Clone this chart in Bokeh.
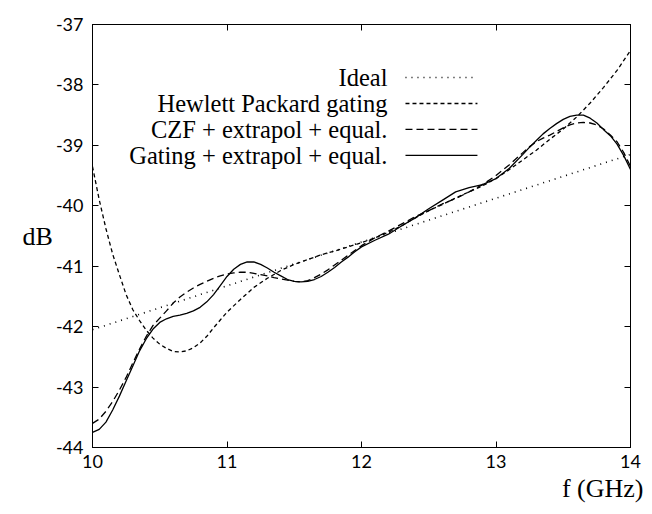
from bokeh.plotting import figure
from bokeh.models import Label, LinearAxis, FixedTicker, Range1d, Title
from bokeh.embed import file_html
from bokeh.resources import INLINE

# ---- data ----
fine_f = [10.0, 10.05, 10.1, 10.15, 10.2, 10.25, 10.3, 10.35, 10.4, 10.45,
          10.5, 10.55, 10.6, 10.65, 10.7, 10.75, 10.8, 10.85, 10.9, 10.95,
          11.0, 11.05, 11.1, 11.15, 11.2, 11.25, 11.3, 11.35, 11.4, 11.45,
          11.5, 11.55, 11.6, 11.65, 11.7, 11.75, 11.8, 11.85, 11.9, 11.95,
          12.0, 12.1, 12.2, 12.3, 12.4, 12.5, 12.6, 12.7, 12.8, 12.9,
          13.0, 13.1, 13.2, 13.25, 13.3, 13.35, 13.4, 13.45, 13.5, 13.55,
          13.6, 13.65, 13.7, 13.75, 13.8, 13.85, 13.9, 13.95, 14.0]

gating_db = [-43.75, -43.7, -43.58, -43.38, -43.15, -42.9, -42.65, -42.4, -42.2, -42.04,
             -41.93, -41.87, -41.83, -41.81, -41.78, -41.74, -41.68, -41.59, -41.47, -41.32,
             -41.17, -41.05, -40.97, -40.93, -40.93, -40.97, -41.03, -41.1, -41.16, -41.22,
             -41.25, -41.26, -41.25, -41.22, -41.17, -41.1, -41.02, -40.93, -40.85, -40.76,
             -40.68, -40.57, -40.47, -40.33, -40.2, -40.05, -39.91, -39.77, -39.7, -39.65,
             -39.55, -39.38, -39.15, -39.03, -38.92, -38.81, -38.72, -38.64, -38.57, -38.52,
             -38.5, -38.5, -38.55, -38.63, -38.74, -38.84, -38.98, -39.17, -39.4]

czf_db = [-43.6, -43.53, -43.4, -43.24, -43.05, -42.84, -42.6, -42.37, -42.16, -41.98,
          -41.86, -41.74, -41.61, -41.51, -41.43, -41.36, -41.3, -41.25, -41.2, -41.16,
          -41.13, -41.11, -41.1, -41.1, -41.12, -41.14, -41.16, -41.19, -41.21, -41.23,
          -41.25, -41.26, -41.24, -41.19, -41.13, -41.06, -40.98, -40.9, -40.82, -40.74,
          -40.66, -40.53, -40.42, -40.3, -40.18, -40.08, -39.97, -39.88, -39.77, -39.65,
          -39.5, -39.32, -39.12, -39.02, -38.94, -38.88, -38.83, -38.77, -38.71, -38.66,
          -38.63, -38.62, -38.63, -38.66, -38.73, -38.83, -38.94, -39.12, -39.35]

hp_f = [10.0, 10.05, 10.1, 10.15, 10.2, 10.25, 10.3, 10.35, 10.4, 10.45,
        10.5, 10.55, 10.6, 10.65, 10.7, 10.75, 10.8, 10.85, 10.9, 10.95,
        11.0, 11.1, 11.2, 11.3, 11.4, 11.5, 11.6, 11.7, 11.8, 11.9,
        12.0, 12.1, 12.2, 12.3, 12.4, 12.5, 12.6, 12.7, 12.8, 12.9,
        13.0, 13.1, 13.2, 13.3, 13.4, 13.5, 13.6, 13.7, 13.8, 13.9, 14.0]
hp_db = [-39.35, -39.9, -40.38, -40.8, -41.14, -41.47, -41.72, -41.9, -42.06, -42.19,
         -42.29, -42.36, -42.41, -42.42, -42.4, -42.35, -42.27, -42.16, -42.02, -41.89,
         -41.76, -41.55, -41.35, -41.2, -41.07, -40.97, -40.89, -40.81, -40.75, -40.68,
         -40.61, -40.53, -40.44, -40.33, -40.2, -40.08, -39.98, -39.87, -39.77, -39.67,
         -39.55, -39.4, -39.24, -39.08, -38.9, -38.73, -38.53, -38.3, -38.04, -37.76, -37.43]

ideal_f = [10.0, 14.0]
ideal_db = [-42.05, -39.15]

x_ticks = [10, 11, 12, 13, 14]
y_ticks = [-44, -43, -42, -41, -40, -39, -38, -37]

legend_labels = ["Ideal", "Hewlett Packard gating", "CZF + extrapol + equal.", "Gating + extrapol + equal."]
legend_dashes = ["1 5", "4 3", "7 4", "solid"]

# ---- figure ----
p = figure(width=644, height=506, output_backend="svg", toolbar_location=None,
           x_range=Range1d(10, 14), y_range=Range1d(-44, -37),
           min_border_left=92, min_border_right=14, min_border_top=24, min_border_bottom=59)
p.background_fill_color = "white"
p.border_fill_color = "white"
p.outline_line_color = "black"
p.outline_line_width = 1
p.xgrid.visible = False
p.ygrid.visible = False

tick_font = "Lato"
for ax, ticks in ((p.xaxis[0], x_ticks), (p.yaxis[0], y_ticks)):
    ax.ticker = FixedTicker(ticks=ticks)
    ax.major_label_overrides = {t: str(t) for t in ticks}
    ax.major_tick_in = 6
    ax.major_tick_out = 0
    ax.minor_tick_in = 0
    ax.minor_tick_out = 0
    ax.axis_line_color = "black"
    ax.major_tick_line_color = "black"
    ax.major_label_text_font = tick_font
    ax.major_label_text_font_size = "18px"
    ax.major_label_text_color = "black"
p.xaxis[0].major_label_standoff = 7
p.yaxis[0].major_label_standoff = 9

serif = "Liberation Serif"
p.yaxis[0].axis_label = "dB"
p.yaxis[0].axis_label_orientation = "horizontal"
p.yaxis[0].axis_label_standoff = 0
p.yaxis[0].axis_label_text_font = serif
p.yaxis[0].axis_label_text_font_size = "26px"
p.yaxis[0].axis_label_text_font_style = "normal"
p.yaxis[0].axis_label_text_color = "black"

# mirror axes (ticks only)
top = LinearAxis(ticker=FixedTicker(ticks=x_ticks), major_tick_in=6, major_tick_out=0,
                 minor_tick_in=0, minor_tick_out=0,
                 major_label_overrides={t: "" for t in x_ticks},
                 major_label_standoff=0, axis_line_color="black")
right = LinearAxis(ticker=FixedTicker(ticks=y_ticks), major_tick_in=6, major_tick_out=0,
                   minor_tick_in=0, minor_tick_out=0,
                   major_label_overrides={t: "" for t in y_ticks},
                   major_label_standoff=0, axis_line_color="black")
p.add_layout(top, "above")
p.add_layout(right, "right")

# x axis title, right aligned below the tick labels
p.add_layout(Title(text="f (GHz)", align="right", offset=-13, standoff=2,
                   text_font=serif, text_font_size="26px", text_font_style="normal",
                   text_color="black"), "below")

# ---- curves ----
p.line(ideal_f, ideal_db, line_color="black", line_width=1.6, line_dash=legend_dashes[0])
p.line(hp_f, hp_db, line_color="black", line_width=1.3, line_dash=legend_dashes[1])
p.line(fine_f, czf_db, line_color="black", line_width=1.3, line_dash=legend_dashes[2])
p.line(fine_f, gating_db, line_color="black", line_width=1.3, line_dash=legend_dashes[3])

# ---- legend (text left of sample) ----
leg_text_x = 12.193
leg_line_x0 = 12.327
leg_line_x1 = 12.862
leg_y0 = -37.877
leg_dy = -0.43
for i, (lab, dash) in enumerate(zip(legend_labels, legend_dashes)):
    yy = leg_y0 + i * leg_dy
    p.add_layout(Label(x=leg_text_x, y=yy, text=lab, text_align="right", text_baseline="middle",
                       text_font=serif, text_font_size="24.5px", text_color="black"))
    p.line([leg_line_x0, leg_line_x1], [yy, yy], line_color="black",
           line_width=1.6 if i == 0 else 1.3, line_dash=dash)

open("out.html", "w").write(file_html(p, INLINE))
